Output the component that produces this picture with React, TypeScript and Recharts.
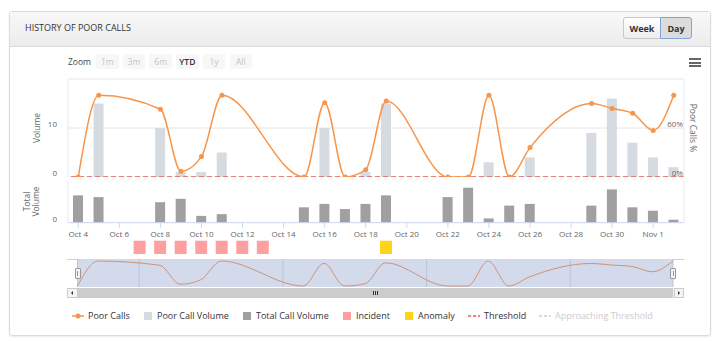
import React from 'react';
import { ComposedChart, BarChart, LineChart, Bar, Line, XAxis, YAxis, CartesianGrid, ReferenceLine } from 'recharts';

const FONT = '"Open Sans", "DejaVu Sans", sans-serif';

const dates = [
  'Oct 4', 'Oct 5', 'Oct 6', 'Oct 7', 'Oct 8', 'Oct 9', 'Oct 10', 'Oct 11', 'Oct 12', 'Oct 13',
  'Oct 14', 'Oct 15', 'Oct 16', 'Oct 17', 'Oct 18', 'Oct 19', 'Oct 20', 'Oct 21', 'Oct 22', 'Oct 23',
  'Oct 24', 'Oct 25', 'Oct 26', 'Oct 27', 'Oct 28', 'Oct 29', 'Oct 30', 'Oct 31', 'Nov 1', 'Nov 2',
];
const poorCallsPct = [0, 100, null, null, 83, 7, 25, 100, null, null, null, 0, 91, 0, 9, 93, null, null, 0, 0, 100, 0, 36, null, null, 90, 84, 78, 57, 100];
const poorCallVolume = [null, 15, null, null, 10, 1, 1, 5, null, null, null, null, 10, null, 1, 15, null, null, null, null, 3, null, 4, null, null, 9, 16, 7, 4, 2];
const totalCallVolume = [32, 30, null, null, 24, 28, 8, 10, null, null, null, 18, 22, 16, 22, 32, null, null, 30, 41, 5, 20, 22, null, null, 20, 39, 18, 14, 3.5];
const incidents = [null, null, null, 1, 1, 1, 1, 1, 1, 1, null, null, null, null, null, null, null, null, null, null, null, null, null, null, null, null, null, null, null, null];
const anomalies = [null, null, null, null, null, null, null, null, null, null, null, null, null, null, null, 1, null, null, null, null, null, null, null, null, null, null, null, null, null, null];
const volumeTicks = [0, 10];
const pctTicks = [0, 60];
const totalTicks = [0];
const navTicks = [3, 10, 17, 24];
const zoomButtons = ['1m', '3m', '6m', 'YTD', '1y', 'All'];

const mainData = dates.map((d, i) => ({
  date: d,
  pct: poorCallsPct[i],
  poorVol: poorCallVolume[i],
  total: totalCallVolume[i],
  incident: incidents[i],
  anomaly: anomalies[i],
}));
const navData = dates.map((d, i) => ({ idx: i, pct: poorCallsPct[i] }));

const LeftTick = (props: any) => {
  const { x, y, payload } = props;
  return (
    <text x={x} y={y - 4} dy="0.35em" textAnchor="end" fontSize={8} fill="#666" fontFamily={FONT}>
      {String(payload.value)}
    </text>
  );
};
const RightTick = (props: any) => {
  const { x, y, payload } = props;
  return (
    <text x={x - 1} y={y - 4} dy="0.35em" textAnchor="end" fontSize={8} fill="#666" fontFamily={FONT}>
      {String(payload.value) + '%'}
    </text>
  );
};
const BottomTick = (props: any) => {
  const { x, y, payload } = props;
  return (
    <text x={x} y={y + 9} textAnchor="middle" fontSize={8} fill="#666" fontFamily={FONT}>
      {payload.value}
    </text>
  );
};
const NavTick = (props: any) => {
  const { x, y, payload } = props;
  return (
    <text x={x + 3} y={y - 2} textAnchor="start" fontSize={8} fill="#8e98ac" fontFamily={FONT}>
      {dates[payload.value]}
    </text>
  );
};

const LegendItem = ({ left, symbol, label, color, gap }: any) => (
  <div style={{ position: 'absolute', left, top: 310, height: 12, display: 'flex', alignItems: 'center', whiteSpace: 'nowrap' }}>
    {symbol}
    <span style={{ marginLeft: gap, fontSize: 9, color, lineHeight: '12px' }}>{label}</span>
  </div>
);
const Square = ({ color }: any) => <div style={{ width: 8, height: 8, background: color }} />;
const Dash = ({ color }: any) => (
  <svg width={12} height={8}>
    <line x1={0} y1={4} x2={12} y2={4} stroke={color} strokeWidth={1.5} strokeDasharray="3 2" />
  </svg>
);

export default function App() {
  return (
    <div style={{ position: 'absolute', left: 0, top: 0, width: 720, height: 342, background: '#fff', fontFamily: FONT, overflow: 'hidden' }}>
      {/* card */}
      <div style={{ position: 'absolute', left: 9, top: 11, width: 702, height: 325, boxSizing: 'border-box', border: '1px solid #dcdcdc', borderRadius: 3, boxShadow: '0 1px 2px rgba(0,0,0,0.08)' }} />
      <div style={{ position: 'absolute', left: 10, top: 12, width: 700, height: 35, boxSizing: 'border-box', background: 'linear-gradient(#f8f8f8, #ececec)', borderBottom: '1px solid #dcdcdc' }} />
      <div style={{ position: 'absolute', left: 25, top: 22, fontSize: 9, lineHeight: '12px', color: '#333' }}>HISTORY OF POOR CALLS</div>
      <div style={{ position: 'absolute', left: 623, top: 17, width: 38, height: 22, boxSizing: 'border-box', border: '1px solid #c8c8c8', borderRadius: '3px 0 0 3px', background: 'linear-gradient(#ffffff, #ededed)', fontSize: 9, fontWeight: 700, color: '#333', display: 'flex', alignItems: 'center', justifyContent: 'center' }}>Week</div>
      <div style={{ position: 'absolute', left: 660, top: 17, width: 32, height: 22, boxSizing: 'border-box', border: '1px solid #7ea6d8', borderRadius: '0 3px 3px 0', background: '#dcdcdc', fontSize: 9, fontWeight: 700, color: '#333', display: 'flex', alignItems: 'center', justifyContent: 'center' }}>Day</div>

      {/* range selector */}
      <div style={{ position: 'absolute', left: 68, top: 55, fontSize: 8.5, lineHeight: '13px', color: '#444' }}>Zoom</div>
      {zoomButtons.map((b, i) => (
        <div key={b} style={{ position: 'absolute', left: 96 + i * 26.7, top: 54, width: 22.5, height: 15, background: '#f7f7f7', borderRadius: 2, fontSize: 8.5, color: b === 'YTD' ? '#333' : '#c4c4c4', fontWeight: b === 'YTD' ? 600 : 400, display: 'flex', alignItems: 'center', justifyContent: 'center' }}>{b}</div>
      ))}
      {/* export menu */}
      {[0, 1, 2].map((k) => (
        <div key={k} style={{ position: 'absolute', left: 689, top: 58 + k * 3.6, width: 12, height: 2, background: '#666' }} />
      ))}

      {/* upper chart */}
      <div style={{ position: 'absolute', left: 0, top: 0 }}>
        <ComposedChart width={720} height={177} data={mainData} margin={{ top: 79, right: 35, bottom: 0, left: 38 }}>
          <CartesianGrid yAxisId="vol" horizontal vertical={false} stroke="#e6e6e6" />
          <XAxis dataKey="date" hide />
          <XAxis xAxisId="top" orientation="top" dataKey="date" height={0} tick={false} tickLine={false} axisLine={{ stroke: '#e6e9ef' }} />
          <YAxis yAxisId="vol" width={30} domain={[0, 20]} ticks={volumeTicks} interval={0} tickSize={0} tickMargin={11} tickLine={false} axisLine={{ stroke: '#e6e9ef' }} tick={LeftTick} />
          <YAxis yAxisId="pct" orientation="right" width={1} domain={[0, 120]} ticks={pctTicks} interval={0} tickSize={0} tickMargin={0} tickLine={false} axisLine={{ stroke: '#e6e9ef' }} tick={RightTick} />
          <Bar yAxisId="vol" dataKey="poorVol" fill="#d6dae1" barSize={10} isAnimationActive={false} />
          <ReferenceLine yAxisId="pct" y={0} stroke="#f25656" strokeDasharray="5 3" strokeWidth={1.5} />
          <Line yAxisId="pct" dataKey="pct" type="monotone" stroke="#f7954a" strokeWidth={1.5} connectNulls dot={{ r: 2.5, fill: '#f7954a', stroke: '#f7954a', strokeWidth: 0 }} isAnimationActive={false} />
        </ComposedChart>
      </div>

      {/* lower chart */}
      <div style={{ position: 'absolute', left: 0, top: 178 }}>
        <BarChart width={720} height={65} data={mainData} margin={{ top: 2, right: 35, bottom: 0, left: 38 }}>
          <XAxis dataKey="date" height={20.3} interval={1} tickSize={5} tickMargin={0} tickLine={{ stroke: '#ccd6eb' }} axisLine={{ stroke: '#ccd6eb' }} tick={BottomTick} />
          <XAxis xAxisId="top" orientation="top" dataKey="date" height={0} tick={false} tickLine={false} axisLine={{ stroke: '#e6e9ef' }} />
          <YAxis width={30} domain={[0, 50]} ticks={totalTicks} interval={0} tickSize={0} tickMargin={11} tickLine={false} axisLine={{ stroke: '#e6e9ef' }} tick={LeftTick} />
          <YAxis yAxisId="r" orientation="right" width={1} tick={false} tickLine={false} axisLine={{ stroke: '#e6e9ef' }} />
          <Bar dataKey="total" fill="#a0a0a0" barSize={10} isAnimationActive={false} />
        </BarChart>
      </div>

      {/* incidents / anomalies */}
      <div style={{ position: 'absolute', left: 0, top: 238 }}>
        <BarChart width={720} height={20} data={mainData} margin={{ top: 2.7, right: 36, bottom: 4, left: 68 }}>
          <XAxis dataKey="date" hide />
          <YAxis hide domain={[0, 1]} />
          <Bar dataKey="incident" stackId="e" fill="#ffa0a0" barSize={12} isAnimationActive={false} />
          <Bar dataKey="anomaly" stackId="e" fill="#ffd31a" barSize={12} isAnimationActive={false} />
        </BarChart>
      </div>

      {/* navigator */}
      <div style={{ position: 'absolute', left: 67, top: 258.5, width: 617, height: 1, background: '#d0d0d0' }} />
      <div style={{ position: 'absolute', left: 0, top: 255 }}>
        <LineChart width={720} height={35} data={navData} margin={{ top: 4, right: 47, bottom: 3, left: 77.5 }}>
          <CartesianGrid horizontal={false} vertical stroke="#bcc5d8" fill="#d2daec" />
          <XAxis dataKey="idx" type="number" domain={[0, 29]} ticks={navTicks} interval={0} height={0} tickSize={0} tickMargin={0} axisLine={false} tickLine={false} tick={NavTick} />
          <YAxis hide domain={[-4, 108]} />
          <Line dataKey="pct" type="monotone" connectNulls dot={false} stroke="#d39272" strokeWidth={1} isAnimationActive={false} />
        </LineChart>
      </div>
      {/* navigator handles */}
      {[74.5, 670].map((l) => (
        <div key={l} style={{ position: 'absolute', left: l, top: 267.5, width: 6, height: 11, boxSizing: 'border-box', background: '#f2f2f2', border: '1px solid #999', borderRadius: 1 }}>
          <div style={{ position: 'absolute', left: 1.5, top: 2, width: 1, height: 5, background: '#999' }} />
        </div>
      ))}
      {/* scrollbar */}
      <div style={{ position: 'absolute', left: 67, top: 287.5, width: 617, height: 10.5, background: '#f2f2f2' }} />
      <div style={{ position: 'absolute', left: 77.5, top: 287.5, width: 595.5, height: 10.5, background: '#cccccc' }} />
      {[67, 673.5].map((l, i) => (
        <div key={l} style={{ position: 'absolute', left: l, top: 287.5, width: 10.5, height: 10.5, boxSizing: 'border-box', background: '#f4f4f4', border: '1px solid #cccccc', display: 'flex', alignItems: 'center', justifyContent: 'center' }}>
          <div style={{ width: 0, height: 0, borderTop: '2px solid transparent', borderBottom: '2px solid transparent', [i === 0 ? 'borderRight' : 'borderLeft']: '2.5px solid #333' }} />
        </div>
      ))}
      {[373, 375, 377].map((l) => (
        <div key={l} style={{ position: 'absolute', left: l, top: 290.5, width: 1, height: 4.5, background: '#333' }} />
      ))}

      {/* axis titles */}
      <svg width={720} height={342} style={{ position: 'absolute', left: 0, top: 0, pointerEvents: 'none' }}>
        <text transform="translate(40,128) rotate(-90)" textAnchor="middle" fontSize={8.5} fill="#666" fontFamily={FONT}>Volume</text>
        <text transform="translate(29.5,201.5) rotate(-90)" textAnchor="middle" fontSize={8.5} fill="#666" fontFamily={FONT}>Total</text>
        <text transform="translate(39,201.5) rotate(-90)" textAnchor="middle" fontSize={8.5} fill="#666" fontFamily={FONT}>Volume</text>
        <text transform="translate(690,128) rotate(90)" textAnchor="middle" fontSize={8.5} fill="#666" fontFamily={FONT}>Poor Calls %</text>
      </svg>

      {/* legend */}
      <LegendItem left={72} gap={4} color="#333" label="Poor Calls" symbol={
        <svg width={12} height={8}>
          <line x1={0} y1={4} x2={12} y2={4} stroke="#f7954a" strokeWidth={1.5} />
          <circle cx={6} cy={4} r={2.5} fill="#f7954a" />
        </svg>
      } />
      <LegendItem left={144} gap={5} color="#333" label="Poor Call Volume" symbol={<Square color="#d6dae1" />} />
      <LegendItem left={243} gap={5} color="#333" label="Total Call Volume" symbol={<Square color="#a0a0a0" />} />
      <LegendItem left={343} gap={5} color="#333" label="Incident" symbol={<Square color="#ffa0a0" />} />
      <LegendItem left={405} gap={5} color="#333" label="Anomaly" symbol={<Square color="#ffd31a" />} />
      <LegendItem left={468} gap={4} color="#333" label="Threshold" symbol={<Dash color="#f25656" />} />
      <LegendItem left={539} gap={4} color="#cccccc" label="Approaching Threshold" symbol={<Dash color="#cccccc" />} />
    </div>
  );
}
